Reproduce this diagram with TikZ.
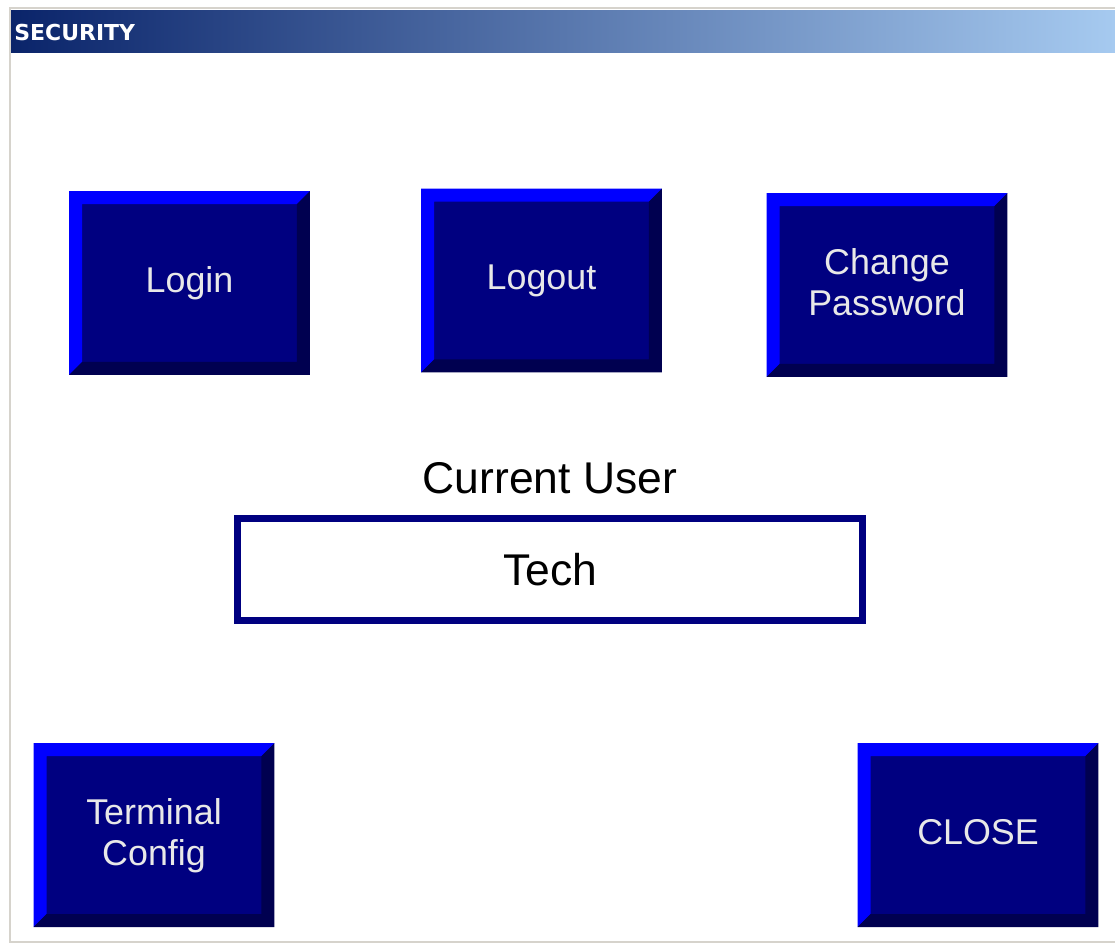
\documentclass[tikz,border=0pt]{standalone}
\usepackage{fontspec}
\setmainfont{Liberation Sans}
\newfontfamily\titlefont{DejaVu Sans}
\usetikzlibrary{positioning}
\definecolor{hmiNavy}{RGB}{0,0,128}
\definecolor{hmiHi}{RGB}{0,0,255}
\definecolor{hmiLo}{RGB}{0,0,80}
\definecolor{hmiText}{RGB}{232,232,232}
\definecolor{winGray}{RGB}{214,211,204}
\definecolor{capLeft}{RGB}{10,36,106}
\definecolor{capRight}{RGB}{166,202,240}
\tikzset{
 hmi button/.style={rectangle,fill=hmiNavy,minimum width=4.82cm,minimum height=3.68cm,
                    inner sep=0pt,outer sep=0pt,align=center,text=hmiText,
                    text depth=0.12cm,font=\fontsize{20.4}{23.2}\selectfont},
 hmi bevel hi/.style={fill=hmiHi},
 hmi bevel lo/.style={fill=hmiLo},
 hmi display/.style={rectangle,draw=hmiNavy,line width=0.14cm,fill=white,
                     minimum width=12.5cm,minimum height=2.04cm,inner sep=0pt,
                     font=\fontsize{25.3}{30}\selectfont},
 hmi label/.style={font=\fontsize{25.3}{30}\selectfont},
 win frame/.style={draw=winGray,line width=0.04cm}
}

\begin{document}
\begin{tikzpicture}[x=0.02cm,y=-0.02cm]
 \useasboundingbox[fill=white] (0,0) rectangle (1115,944);
 \draw[win frame] (1115,8)--(10,8)--(10,942)--(1115,942);
 \shade[left color=capLeft,right color=capRight] (11,10) rectangle (1115,52);
 \node[anchor=west,inner sep=0pt,text=white,font=\titlefont\bfseries\fontsize{12.5}{14}\selectfont]
   (title) at (14,32) {SECURITY};
 \node[hmi button] (login)  at (189.5,283)   {Login};
 \node[hmi button] (logout) at (541.5,280.5) {Logout};
 \node[hmi button] (chpw)   at (887,285)     {Change\\Password};
 \node[hmi button] (term)   at (154,835)     {Terminal\\Config};
 \node[hmi button] (close)  at (978,835)     {CLOSE};
 \def\bv{0.26cm}
 \foreach \n in {login,logout,chpw,term,close}{
   \fill[hmi bevel hi] (\n.south west) -- (\n.north west) -- (\n.north east)
     -- ([shift={(-\bv,-\bv)}]\n.north east) -- ([shift={(\bv,-\bv)}]\n.north west)
     -- ([shift={(\bv,\bv)}]\n.south west) -- cycle;
   \fill[hmi bevel lo] (\n.south west) -- (\n.south east) -- (\n.north east)
     -- ([shift={(-\bv,-\bv)}]\n.north east) -- ([shift={(-\bv,\bv)}]\n.south east)
     -- ([shift={(\bv,\bv)}]\n.south west) -- cycle;
 }
 \node[hmi display] (user) at (550,569.5) {Tech};
 \node[hmi label,above=0.3cm of user] (userlbl) {Current User};
\end{tikzpicture}
\end{document}
